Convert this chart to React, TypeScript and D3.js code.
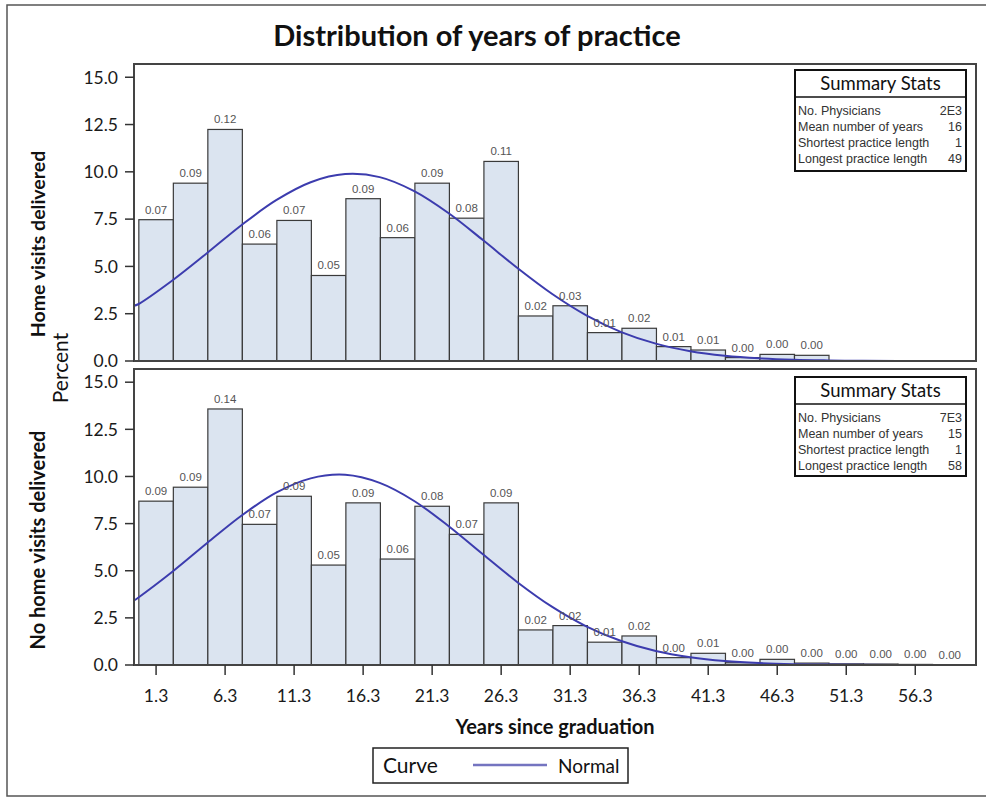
import * as d3 from "d3";

// bin midpoints (years since graduation), bin width 2.5
const binMids = [1.3, 3.8, 6.3, 8.8, 11.3, 13.8, 16.3, 18.8, 21.3, 23.8, 26.3, 28.8,
  31.3, 33.8, 36.3, 38.8, 41.3, 43.8, 46.3, 48.8, 51.3, 53.8, 56.3, 58.8];
const binWidth = 2.5;

// percent per bin
const homePct = [7.47, 9.4, 12.24, 6.18, 7.43, 4.52, 8.58, 6.52, 9.4, 7.55, 10.55, 2.38,
  2.92, 1.5, 1.73, 0.76, 0.58, 0.18, 0.35, 0.3];
const homeLabels = ["0.07", "0.09", "0.12", "0.06", "0.07", "0.05", "0.09", "0.06", "0.09", "0.08",
  "0.11", "0.02", "0.03", "0.01", "0.02", "0.01", "0.01", "0.00", "0.00", "0.00"];

const noHomePct = [8.69, 9.43, 13.58, 7.46, 8.95, 5.3, 8.6, 5.62, 8.42, 6.93, 8.6, 1.86,
  2.09, 1.21, 1.54, 0.39, 0.62, 0.12, 0.3, 0.1, 0.06, 0.05, 0.03, 0.02];
const noHomeLabels = ["0.09", "0.09", "0.14", "0.07", "0.09", "0.05", "0.09", "0.06", "0.08", "0.07",
  "0.09", "0.02", "0.02", "0.01", "0.02", "0.00", "0.01", "0.00", "0.00", "0.00", "0.00", "0.00",
  "0.00", "0.00"];

// normal curve
const curveX = [-0.3, 0, 2.5, 5, 7.5, 10, 12.5, 15, 17.5, 20, 22.5, 25, 27.5, 30, 32.5, 35,
  37.5, 40, 42.5, 45, 47.5, 50, 52.5, 55, 57.5, 60, 60.7];
const homeCurve = [2.92, 3.0, 4.27, 5.71, 7.19, 8.5, 9.45, 9.88, 9.72, 8.98, 7.81, 6.38, 4.9,
  3.54, 2.4, 1.53, 0.92, 0.52, 0.28, 0.14, 0.065, 0.03, 0.01, 0.004, 0, 0, 0];
const noHomeCurve = [3.42, 3.57, 4.96, 6.47, 7.93, 9.14, 9.9, 10.09, 9.66, 8.7, 7.36, 5.86,
  4.38, 3.08, 2.04, 1.27, 0.74, 0.41, 0.21, 0.1, 0.046, 0.02, 0.01, 0.003, 0, 0, 0];

const yTicks = [0, 2.5, 5, 7.5, 10, 12.5, 15];
const xTicks = [1.3, 6.3, 11.3, 16.3, 21.3, 26.3, 31.3, 36.3, 41.3, 46.3, 51.3, 56.3];

const statNames = ["No. Physicians", "Mean number of years", "Shortest practice length", "Longest practice length"];
const homeStats = ["2E3", "16", "1", "49"];
const noHomeStats = ["7E3", "15", "1", "58"];

const W = 986, H = 799;
const L = 134, R = 976;
const FONT = "Lato, 'Open Sans', sans-serif";
const SMALL = "'Liberation Sans', Arial, sans-serif";
const BAR_FILL = "#dbe4f0";
const CURVE = "#3c3cae";

const x = d3.scaleLinear().domain([-0.3, 60.7]).range([L, R]);

function Panel({ top, bottom, pct, labels, curve, stats, boxTop, boxH, showX }: any) {
  const y = d3.scaleLinear().domain([0, 15.7]).range([bottom, top]);
  const line = d3.line<number>().x((_, i) => x(curveX[i])).y(d => y(d)).curve(d3.curveCatmullRom);
  const bw = 171, bx = 795;
  return (
    <g>
      {pct.map((v: number, i: number) => (
        <rect key={i} x={x(binMids[i] - binWidth / 2)} y={y(v)}
          width={x(binMids[i] + binWidth / 2) - x(binMids[i] - binWidth / 2)} height={bottom - y(v)}
          fill={BAR_FILL} stroke="#3a3a3a" strokeWidth={1.2} />
      ))}
      <path d={line(curve) ?? ""} fill="none" stroke={CURVE} strokeWidth={2} />
      {labels.map((t: string, i: number) => (
        <text key={i} x={x(binMids[i])} y={y(pct[i]) - 6} textAnchor="middle"
          fontFamily={SMALL} fontSize={11.5} fill="#555">{t}</text>
      ))}
      <rect x={L} y={top} width={R - L} height={bottom - top} fill="none" stroke="#444" strokeWidth={2} />
      {yTicks.map(t => (
        <g key={t}>
          <line x1={L - 9} x2={L} y1={y(t)} y2={y(t)} stroke="#333" strokeWidth={1.5} />
          <text x={L - 16} y={y(t)} dy="0.36em" textAnchor="end" fontFamily={FONT}
            fontSize={17.5} fill="#1a1a1a">{d3.format(".1f")(t)}</text>
        </g>
      ))}
      {showX && xTicks.map(t => (
        <g key={t}>
          <line x1={x(t)} x2={x(t)} y1={bottom} y2={bottom + 10} stroke="#333" strokeWidth={1.5} />
          <text x={x(t)} y={bottom + 37} textAnchor="middle" fontFamily={FONT}
            fontSize={17.5} fill="#1a1a1a">{t.toFixed(1)}</text>
        </g>
      ))}
      <g>
        <rect x={bx} y={boxTop} width={bw} height={boxH} fill="white" stroke="#111" strokeWidth={2} />
        <line x1={bx} x2={bx + bw} y1={boxTop + 27} y2={boxTop + 27} stroke="#111" strokeWidth={1.5} />
        <text x={bx + bw / 2} y={boxTop + 20} textAnchor="middle" fontFamily={FONT} fontSize={18.5}
          fill="#111">Summary Stats</text>
        {statNames.map((s, i) => (
          <g key={s}>
            <text x={bx + 3} y={boxTop + 45 + i * 16} fontFamily={SMALL} fontSize={12.5} fill="#333">{s}</text>
            <text x={bx + bw - 4} y={boxTop + 45 + i * 16} textAnchor="end" fontFamily={SMALL}
              fontSize={12.5} fill="#333">{stats[i]}</text>
          </g>
        ))}
      </g>
    </g>
  );
}

export default function App() {
  return (
    <svg width={W} height={H} viewBox={`0 0 ${W} ${H}`}
      style={{ position: "absolute", left: 0, top: 0, background: "white" }}>
      <rect x={7} y={5} width={990} height={791} fill="white" stroke="#555" strokeWidth={1.5} />
      <text x={477} y={46} textAnchor="middle" fontFamily={FONT} fontWeight="bold" fontSize={29}
        fill="#111">Distribution of years of practice</text>

      <Panel top={64} bottom={361} pct={homePct} labels={homeLabels} curve={homeCurve}
        stats={homeStats} boxTop={70} boxH={101} showX={false} />
      <Panel top={369} bottom={665} pct={noHomePct} labels={noHomeLabels} curve={noHomeCurve}
        stats={noHomeStats} boxTop={377} boxH={99} showX={true} />

      <text transform="translate(38,244) rotate(-90)" textAnchor="middle" dy="0.35em" fontFamily={FONT}
        fontWeight="bold" fontSize={19.5} fill="#111">Home visits delivered</text>
      <text transform="translate(38,540) rotate(-90)" textAnchor="middle" dy="0.35em" fontFamily={FONT}
        fontWeight="bold" fontSize={20} fill="#111">No home visits delivered</text>
      <text transform="translate(61,368) rotate(-90)" textAnchor="middle" dy="0.35em" fontFamily={FONT}
        fontSize={21} fill="#111">Percent</text>

      <text x={(L + R) / 2} y={734} textAnchor="middle" fontFamily={FONT} fontWeight="bold"
        fontSize={20} fill="#111">Years since graduation</text>

      <g>
        <rect x={373} y={748} width={255} height={35} fill="white" stroke="#222" strokeWidth={1.5} />
        <text x={383} y={773} fontFamily={FONT} fontSize={21} fill="#111">Curve</text>
        <line x1={473} x2={547} y1={765} y2={765} stroke="#7474c0" strokeWidth={2.5} />
        <text x={558} y={773} fontFamily={FONT} fontSize={19} fill="#111">Normal</text>
      </g>
    </svg>
  );
}
